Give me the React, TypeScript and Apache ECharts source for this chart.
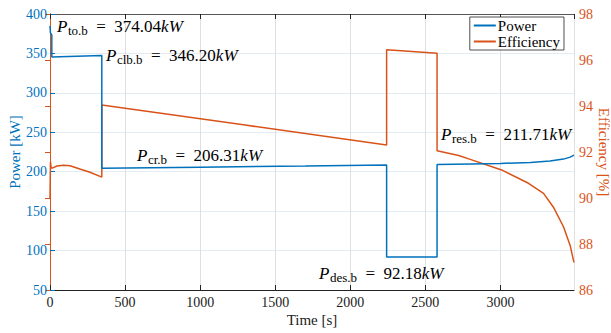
import React, { useEffect, useRef } from "react";
import * as echarts from "echarts";

const powerTime = [0, 3, 12, 12, 345, 345, 1000, 1700, 2242, 2242, 2578, 2578, 2800, 3000, 3200, 3330, 3420, 3465, 3490];
const powerValues = [385, 376, 373.5, 345.5, 347.5, 204.4, 205.8, 207.3, 208.6, 92.0, 92.0, 209.0, 209.8, 210.5, 211.8, 213.5, 216, 218.5, 221];

const effTime = [0, 3, 8, 15, 46, 90, 133, 199, 266, 345, 345, 1300, 2242, 2242, 2578, 2578, 2722, 2789, 3008, 3187, 3287, 3353, 3420, 3466, 3486, 3490];
const effValues = [90.0, 91.57, 91.3, 91.3, 91.39, 91.42, 91.4, 91.26, 91.12, 90.91, 94.04, 93.17, 92.3, 96.45, 96.29, 92.05, 91.85, 91.7, 91.22, 90.64, 90.2, 89.6, 88.75, 87.9, 87.3, 87.2];

const phaseNames = ["to.b", "clb.b", "cr.b", "des.b", "res.b"];
const phaseValues = ["374.04", "346.20", "206.31", "92.18", "211.71"];
// left edge and text baseline of each annotation, in pixels
const labelPos = [
  [57, 32],
  [106, 61.5],
  [137, 161.5],
  [319, 279],
  [441, 140],
];

const BLUE = "#0072BD";
const ORANGE = "#D95319";
const FONT = "Liberation Serif";

const MAIN_FS = 17;
const SUB_FS = 13;

function measure(font: string, text: string): number {
  const ctx = document.createElement("canvas").getContext("2d");
  if (!ctx) return text.length * 8;
  ctx.font = font;
  return ctx.measureText(text).width;
}

function buildLabel(i: number): any[] {
  const [x0, base] = labelPos[i];
  const parts = [
    { t: "P", font: `italic ${MAIN_FS}px ${FONT}`, fs: MAIN_FS, dy: 0 },
    { t: phaseNames[i], font: `${SUB_FS}px ${FONT}`, fs: SUB_FS, dy: 2.5 },
    { t: `\u2002=\u2002${phaseValues[i]}`, font: `${MAIN_FS}px ${FONT}`, fs: MAIN_FS, dy: 0 },
    { t: "kW", font: `italic ${MAIN_FS}px ${FONT}`, fs: MAIN_FS, dy: 0 },
  ];
  let x = x0;
  return parts.map((p) => {
    const el = {
      type: "text",
      x,
      y: base + p.dy - 0.3375 * p.fs,
      z: 100,
      style: { text: p.t, font: p.font, fill: "#000", align: "left", verticalAlign: "middle" },
    };
    x += measure(p.font, p.t) + (p.t === "P" ? 0.5 : 0);
    return el;
  });
}

export default function App() {
  const ref = useRef<HTMLDivElement>(null);
  useEffect(() => {
    if (!ref.current) return;
    const chart = echarts.init(ref.current, undefined, { renderer: "svg" });
    const graphics: any[] = [];
    phaseNames.forEach((_, i) => graphics.push(...buildLabel(i)));
    const fmt = (v: number) => String(v);
    chart.setOption({
      animation: false,
      textStyle: { fontFamily: FONT },
      grid: { left: 50, right: 37, top: 14, bottom: 43, outerBoundsMode: "none", containLabel: false },
      legend: {
        orient: "vertical",
        right: 47,
        top: 17,
        backgroundColor: "#fff",
        borderColor: "#222",
        borderWidth: 0.8,
        borderRadius: 0,
        padding: [1, 4, 1, 4],
        itemGap: 1,
        itemWidth: 22,
        itemHeight: 2,
        icon: "rect",
        textStyle: { fontFamily: FONT, fontSize: 15, color: "#000", padding: [0, 0, 0, -3] },
        data: ["Power", "Efficiency"],
      },
      xAxis: [
        {
          type: "value",
          min: 0,
          max: 3490,
          interval: 500,
          name: "Time [s]",
          nameLocation: "middle",
          nameGap: 22,
          nameMoveOverlap: false,
          nameTextStyle: { fontFamily: FONT, fontSize: 15, color: "#222" },
          axisLine: { show: true, lineStyle: { color: "#222", width: 1 } },
          axisTick: { show: true, inside: true, length: 5, lineStyle: { color: "#222" } },
          axisLabel: { showMaxLabel: false, fontFamily: FONT, fontSize: 14, color: "#222", margin: 5, formatter: fmt },
          splitLine: { show: true, lineStyle: { color: "#dfdfdf", width: 1 } },
        },
        {
          type: "value",
          position: "top",
          min: 0,
          max: 3490,
          interval: 500,
          axisLine: { show: true, lineStyle: { color: "#555", width: 1 } },
          axisTick: { show: true, inside: true, length: 5, lineStyle: { color: "#222" } },
          axisLabel: { show: false },
          splitLine: { show: false },
        },
      ],
      yAxis: [
        {
          type: "value",
          min: 50,
          max: 400,
          interval: 50,
          name: "Power [kW]",
          nameLocation: "middle",
          nameGap: 28,
          nameMoveOverlap: false,
          nameTextStyle: { fontFamily: FONT, fontSize: 15, color: BLUE },
          axisLine: { show: true, lineStyle: { color: BLUE, width: 1 } },
          axisTick: { show: true, inside: true, length: 5, lineStyle: { color: BLUE } },
          axisLabel: { fontFamily: FONT, fontSize: 14, color: BLUE, margin: 3, formatter: fmt },
          splitLine: { show: true, lineStyle: { color: "#e3ebf3", width: 1 } },
        },
        {
          type: "value",
          min: 86,
          max: 98,
          interval: 2,
          position: "right",
          name: "Efficiency [%]",
          nameLocation: "middle",
          nameGap: 22,
          nameMoveOverlap: false,
          nameRotate: -90,
          nameTextStyle: { fontFamily: FONT, fontSize: 15, color: ORANGE },
          axisLine: { show: true, lineStyle: { color: ORANGE, width: 1 } },
          axisTick: { show: true, inside: true, length: 5, lineStyle: { color: ORANGE } },
          axisLabel: { fontFamily: FONT, fontSize: 14, color: ORANGE, margin: 5, formatter: fmt },
          splitLine: { show: false },
        },
      ],
      series: [
        {
          name: "Power",
          type: "line",
          xAxisIndex: 0,
          yAxisIndex: 0,
          showSymbol: false,
          symbol: "none",
          color: BLUE,
          lineStyle: { color: BLUE, width: 1.5 },
          data: powerTime.map((t, i) => [t, powerValues[i]]),
          z: 3,
        },
        {
          name: "Efficiency",
          type: "line",
          xAxisIndex: 0,
          yAxisIndex: 1,
          showSymbol: false,
          symbol: "none",
          color: ORANGE,
          lineStyle: { color: ORANGE, width: 1.5 },
          data: effTime.map((t, i) => [t, effValues[i]]),
          z: 2,
        },
      ],
      graphic: graphics,
    });
    return () => chart.dispose();
  }, []);
  return <div ref={ref} style={{ width: 611, height: 333, position: "absolute", left: 0, top: 0 }} />;
}
